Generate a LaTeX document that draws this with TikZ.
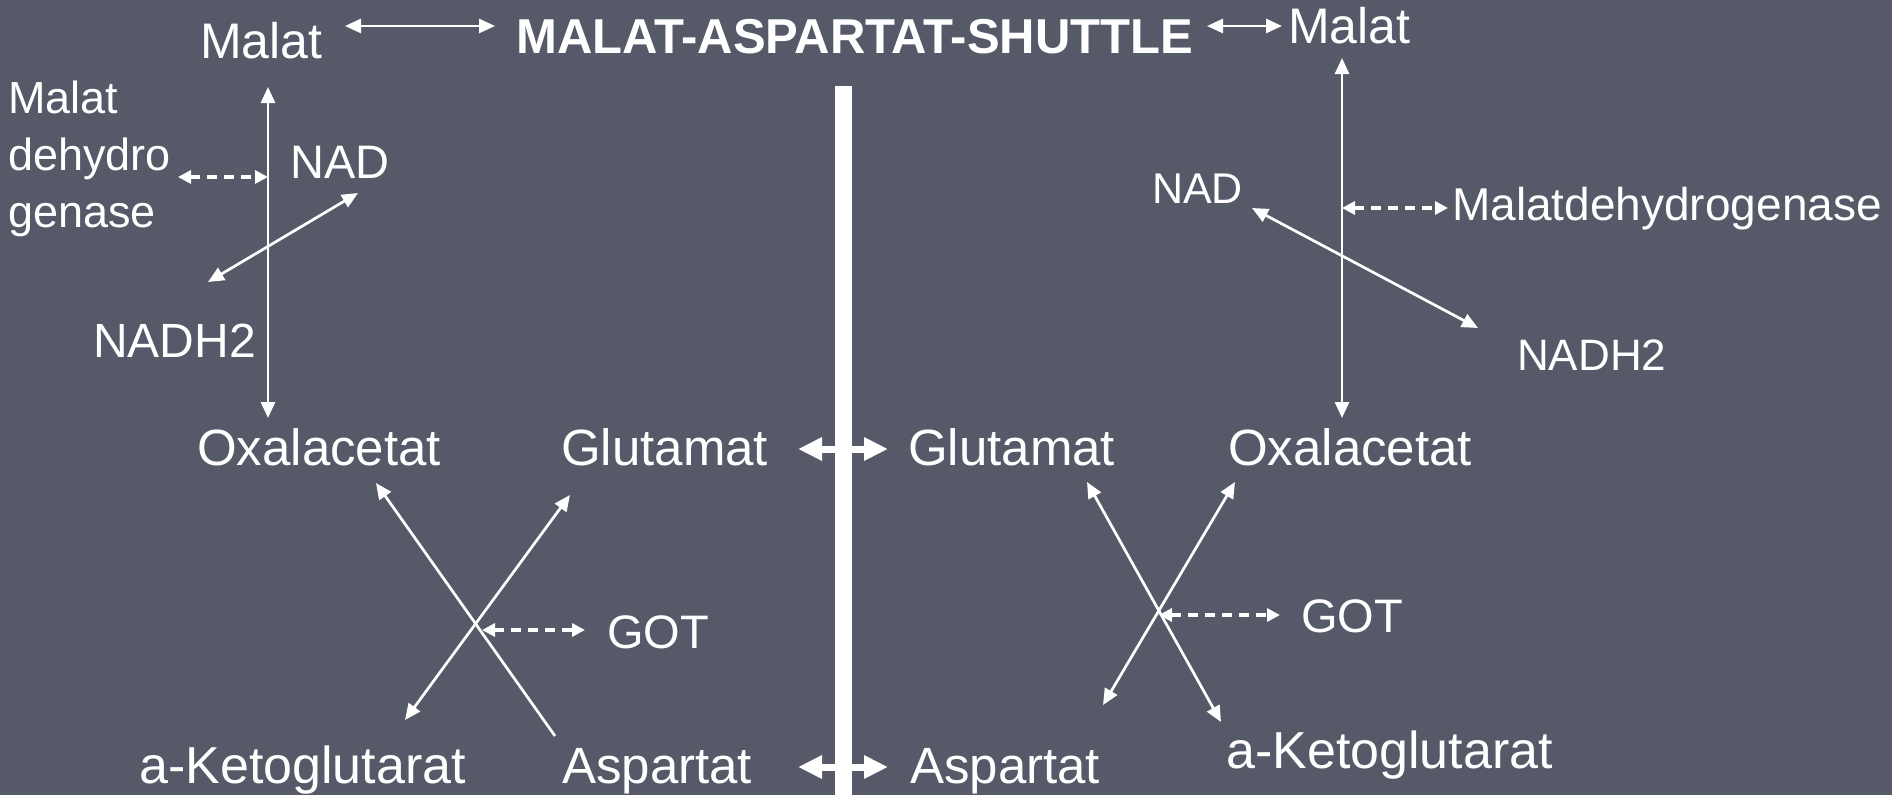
\documentclass[tikz,border=0pt]{standalone}
\usepackage{fontspec}
\setmainfont{Liberation Sans}
\usetikzlibrary{arrows.meta}
\definecolor{bgc}{RGB}{86,89,104}
\begin{document}
\begin{tikzpicture}[x=1pt,y=-1pt,
  lbl/.style={text=white, inner sep=0pt, anchor=base west},
  fs/.style={font=\fontsize{#1pt}{#1pt}\selectfont},
  thinarr/.style={draw=white, line width=2.7pt,
    {Triangle[length=16pt,width=14pt]}-{Triangle[length=16pt,width=14pt]}},
  onearr/.style={draw=white, line width=2.7pt, -{Triangle[length=16pt,width=14pt]}},
  dasharr/.style={draw=white, line width=3.2pt, dash pattern=on 10pt off 7pt,
    {Triangle[length=13pt,width=13pt]}-{Triangle[length=13pt,width=13pt]}},
  thickarr/.style={draw=white, line width=7pt,
    {Triangle[length=24pt,width=22pt]}-{Triangle[length=24pt,width=22pt]}}
]
\fill[bgc] (0,0) rectangle (1892,795);
\useasboundingbox (0,0) rectangle (1892,795);

% membrane
\fill[white] (835,86) rectangle (852,795);

% texts
\node[lbl,fs=50] (mL) at (200,58) {Malat};
\node[lbl,font=\fontsize{49pt}{49pt}\selectfont\bfseries] (title) at (516,53) {MALAT-ASPARTAT-SHUTTLE};
\node[lbl,fs=50] (mR) at (1288,43) {Malat};
\node[text=white, inner sep=0pt, anchor=north west, align=left,
      font=\fontsize{45pt}{57pt}\selectfont] (enzL) at (8,81) {Malat\\dehydro\\genase};
\node[lbl,fs=47] (nadL) at (290,178) {NAD};
\node[lbl,fs=48] (nadhL) at (93,357) {NADH2};
\node[lbl,fs=51] (oxL) at (197,465) {Oxalacetat};
\node[lbl,fs=51] (glL) at (561,465) {Glutamat};
\node[lbl,fs=51] (glR) at (908,465) {Glutamat};
\node[lbl,fs=51] (oxR) at (1228,465) {Oxalacetat};
\node[lbl,fs=52] (akL) at (139,783) {a-Ketoglutarat};
\node[lbl,fs=51] (asL) at (562,783) {Aspartat};
\node[lbl,fs=51] (asR) at (910,783) {Aspartat};
\node[lbl,fs=52] (akR) at (1226,768) {a-Ketoglutarat};
\node[lbl,fs=47] (gotL) at (607,648) {GOT};
\node[lbl,fs=47] (gotR) at (1301,632) {GOT};
\node[lbl,fs=43] (nadR) at (1152,203) {NAD};
\node[lbl,fs=46] (mdhR) at (1452,220) {Malatdehydrogenase};
\node[lbl,fs=44] (nadhR) at (1517,370) {NADH2};

% connector end points
\coordinate (tlA) at (345,26);  \coordinate (tlB) at (495,26);
\coordinate (trA) at (1207,26); \coordinate (trB) at (1282,26);
\coordinate (lvT) at (268,87);  \coordinate (lvB) at (268,418);
\coordinate (rvT) at (1342,58); \coordinate (rvB) at (1342,418);
\coordinate (ldA) at (178,177); \coordinate (ldB) at (268,177);
\coordinate (lgA) at (358,193); \coordinate (lgB) at (208,282);
\coordinate (rdA) at (1342,208); \coordinate (rdB) at (1448,208);
\coordinate (rgA) at (1252,208); \coordinate (rgB) at (1478,328);
\coordinate (lxOx) at (376,483); \coordinate (lxAs) at (555,736);
\coordinate (lxGl) at (570,495); \coordinate (lxAk) at (405,720);
\coordinate (lcA) at (482,630);  \coordinate (lcB) at (585,630);
\coordinate (rxGl) at (1087,482); \coordinate (rxAk) at (1221,722);
\coordinate (rxOx) at (1235,482); \coordinate (rxAs) at (1103,705);
\coordinate (rcA) at (1159,615);  \coordinate (rcB) at (1280,615);
\coordinate (gA) at (798,449); \coordinate (gB) at (888,449);
\coordinate (aA) at (798,767); \coordinate (aB) at (888,767);

\draw[thinarr] (tlA) -- (tlB);
\draw[thinarr] (trA) -- (trB);
\draw[thinarr] (lvT) -- (lvB);
\draw[thinarr] (rvT) -- (rvB);
\draw[dasharr] (ldA) -- (ldB);
\draw[thinarr] (lgA) -- (lgB);
\draw[dasharr] (rdA) -- (rdB);
\draw[thinarr] (rgA) -- (rgB);
\draw[onearr] (lxAs) -- (lxOx);
\draw[thinarr] (lxGl) -- (lxAk);
\draw[dasharr] (lcA) -- (lcB);
\draw[thinarr] (rxGl) -- (rxAk);
\draw[thinarr] (rxOx) -- (rxAs);
\draw[dasharr] (rcA) -- (rcB);
\draw[thickarr] (gA) -- (gB);
\draw[thickarr] (aA) -- (aB);
\end{tikzpicture}
\end{document}
